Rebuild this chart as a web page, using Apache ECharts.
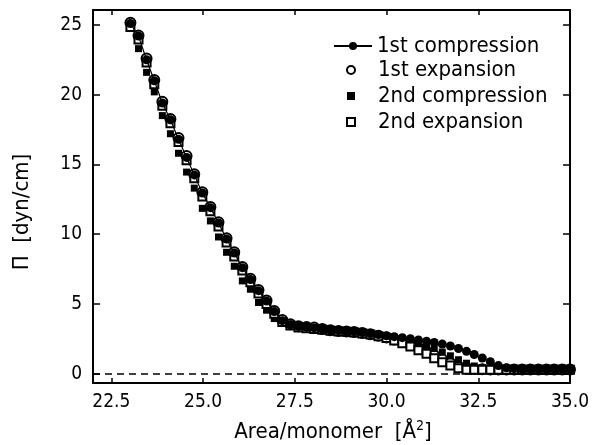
<!DOCTYPE html>
<html><head><meta charset="utf-8">
<script src="https://cdn.jsdelivr.net/npm/echarts@6/dist/echarts.min.js"></script>
<style>html,body{margin:0;padding:0;background:#fff}#c{width:592px;height:445px}</style>
</head><body><div id="c"></div>
<script>
// Area per monomer (Å^2) of the sampled points
const areas = [23.02,23.24,23.46,23.67,23.89,24.11,24.33,24.55,24.76,24.98,
  25.20,25.42,25.64,25.85,26.07,26.29,26.51,26.73,26.94,27.16,
  27.38,27.60,27.82,28.03,28.25,28.47,28.69,28.91,29.12,29.34,
  29.56,29.78,30.00,30.21,30.43,30.65,30.87,31.09,31.30,31.52,
  31.74,31.96,32.18,32.39,32.61,32.83,33.05,33.27,33.48,33.70,
  33.92,34.14,34.36,34.57,34.79,35.00];
const comp1 = [25.10,24.20,22.50,21.00,19.40,18.20,16.80,15.50,14.25,12.95,
  11.90,10.80,9.65,8.65,7.60,6.75,5.95,5.20,4.45,3.80,
  3.50,3.38,3.32,3.28,3.20,3.12,3.08,3.04,3.00,2.95,
  2.88,2.80,2.72,2.65,2.58,2.50,2.42,2.33,2.23,2.12,
  1.98,1.80,1.60,1.37,1.12,0.85,0.58,0.42,0.36,0.33,
  0.33,0.32,0.32,0.32,0.32,0.32];
const exp1 = [25.15,24.25,22.60,21.05,19.50,18.25,16.90,15.60,14.30,13.00,
  11.95,10.85,9.70,8.70,7.65,6.80,6.00,5.25,4.50,3.85,
  3.55,3.40,3.35,3.30,3.20,3.12,3.06,3.03,2.98,2.92,
  2.83,2.72,2.60,2.45,2.28,2.08,1.85,1.58,1.30,1.02,
  0.75,0.52,0.40,0.34,0.32,0.30,0.30,0.30,0.30,0.30,
  0.30,0.30,0.30,0.30,0.30,0.30];
const comp2 = [null,23.30,21.60,20.20,18.50,17.20,15.80,14.45,13.30,11.85,
  10.95,9.80,8.70,7.70,6.65,6.05,5.10,4.55,3.95,3.60,
  3.40,3.30,3.25,3.20,3.15,3.10,3.05,3.00,2.96,2.90,
  2.84,2.76,2.68,2.60,2.50,2.38,2.22,2.02,1.80,1.55,
  1.28,1.00,0.75,0.55,0.42,0.36,0.33,0.33,0.33,0.33,
  0.33,0.33,0.33,0.33,0.33,0.33];
const exp2 = [24.85,23.95,22.30,20.75,19.20,17.95,16.60,15.30,14.00,12.70,
  11.65,10.55,9.40,8.40,7.40,6.55,5.75,5.00,4.30,3.70,
  3.45,3.30,3.25,3.20,3.15,3.08,3.03,3.00,2.95,2.88,
  2.80,2.68,2.55,2.38,2.18,1.95,1.68,1.42,1.10,0.82,
  0.58,0.38,0.28,0.28,0.28,0.28,0.28,0.28,0.28,0.28,
  0.28,0.28,0.28,0.28,0.28,0.28];
const seriesNames = ['1st compression','1st expansion','2nd compression','2nd expansion'];
const xTicks = [22.5,25.0,27.5,30.0,32.5,35.0];
const yTicks = [0,5,10,15,20,25];

const FONT = "'Liberation Sans Narrow','DejaVu Sans Condensed','Liberation Sans',sans-serif";
function pairs(ys){ return areas.map((x,i)=> ys[i]==null ? null : [x, ys[i]]).filter(p=>p); }

const axisLine = {show:true, onZero:false, lineStyle:{color:'#000', width:2}};
const tickStyle = {color:'#000', width:1.5};
const legendText = {color:'#000', fontSize:22, lineHeight:20, fontFamily:FONT};
const chart = echarts.init(document.getElementById('c'), null, {renderer:'canvas'});
chart.setOption({
  animation:false,
  backgroundColor:'#fff',
  grid:{left:93, right:19, top:10, bottom:62, containLabel:false},
  xAxis:[
    {type:'value', min:22, max:35, position:'bottom', axisLine:axisLine,
     axisTick:{inside:true, length:5, customValues:xTicks, lineStyle:tickStyle},
     axisLabel:{customValues:xTicks, formatter:v=>v.toFixed(1), color:'#000', fontSize:19, fontFamily:FONT, margin:10},
     splitLine:{show:false}},
    {type:'value', min:22, max:35, position:'top', axisLine:axisLine,
     axisTick:{inside:true, length:5, customValues:xTicks, lineStyle:tickStyle},
     axisLabel:{show:false}, splitLine:{show:false}}
  ],
  yAxis:[
    {type:'value', min:-0.67, max:26.07, position:'left', axisLine:axisLine,
     axisTick:{inside:true, length:7, customValues:yTicks, lineStyle:tickStyle},
     axisLabel:{customValues:yTicks, color:'#000', fontSize:19, fontFamily:FONT, margin:11},
     splitLine:{show:false}},
    {type:'value', min:-0.67, max:26.07, position:'right', axisLine:axisLine,
     axisTick:{inside:true, length:7, customValues:yTicks, lineStyle:tickStyle},
     axisLabel:{show:false}, splitLine:{show:false}}
  ],
  legend:[
    {orient:'vertical', left:333, top:35, padding:0, itemWidth:38, itemHeight:10, itemGap:5,
     data:[seriesNames[0]], textStyle:legendText},
    {orient:'vertical', left:346, top:59, padding:0, itemWidth:8, itemHeight:8, itemGap:4,
     data:seriesNames.slice(1), textStyle:Object.assign({}, legendText, {padding:[0,0,0,18]})}
  ],
  graphic:[
    {type:'text', x:333, y:432,
     style:{text:'Area/monomer  [Å{s|2}]', fill:'#000', font:"22px "+FONT, textAlign:'center', textVerticalAlign:'middle',
      rich:{s:{fontSize:14, fontFamily:FONT, fill:'#000', padding:[0,0,12,0]}}}},
    {type:'text', rotation:Math.PI/2, x:22, y:212,
     style:{text:'Π  [dyn/cm]', fill:'#000', font:"22px "+FONT, textAlign:'center', textVerticalAlign:'middle'}}
  ],
  series:[
    {name:seriesNames[0], type:'line', data:pairs(comp1), symbol:'circle', symbolSize:9, clip:true,
     itemStyle:{color:'#000'}, lineStyle:{color:'#000', width:1.2},
     markLine:{silent:true, symbol:['none','none'], label:{show:false},
       lineStyle:{color:'#000', width:1.6, type:[7,5]}, data:[{yAxis:0}]}},
    {name:seriesNames[1], type:'scatter', data:pairs(exp1), symbol:'circle', symbolSize:10, clip:true,
     itemStyle:{color:'#fff', borderColor:'#000', borderWidth:2, opacity:1}},
    {name:seriesNames[2], type:'scatter', data:pairs(comp2), symbol:'rect', symbolSize:7, clip:true,
     itemStyle:{color:'#000', opacity:1}},
    {name:seriesNames[3], type:'scatter', data:pairs(exp2), symbol:'rect', symbolSize:8, clip:true,
     itemStyle:{color:'#fff', borderColor:'#000', borderWidth:2, opacity:1}}
  ]
});
</script></body></html>
